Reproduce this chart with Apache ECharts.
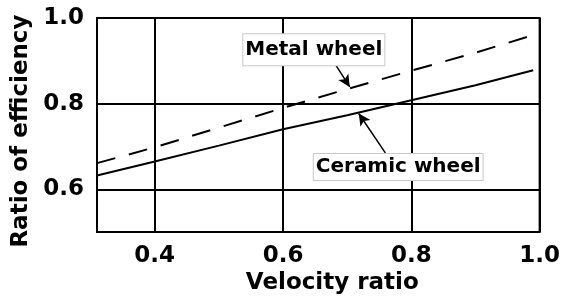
<!DOCTYPE html>
<html>
<head>
<meta charset="utf-8">
<script src="https://cdn.jsdelivr.net/npm/echarts@6/dist/echarts.min.js"></script>
<style>html,body{margin:0;padding:0;background:#fff}#c{width:563px;height:300px}</style>
</head>
<body>
<div id="c"></div>
<script>
// Data
const velocity = [0.31, 0.4, 0.5, 0.6, 0.7, 0.8, 0.9, 0.99];
const ceramic  = [0.632, 0.665, 0.702, 0.740, 0.773, 0.808, 0.843, 0.878];
const metal    = [0.661, 0.698, 0.744, 0.790, 0.834, 0.877, 0.919, 0.960];
const xTicks = [0.4, 0.6, 0.8, 1.0];
const yTicks = [0.6, 0.8, 1.0];
const xRange = [0.31, 1.0];
const yRange = [0.5, 1.0];
// annotation anchors (data coords)
const metalLabel = {text: 'Metal wheel', at: [0.648, 0.926], from: [0.683, 0.888], to: [0.704, 0.839]};
const ceramicLabel = {text: 'Ceramic wheel', at: [0.7795, 0.652], from: [0.7595, 0.685], to: [0.718, 0.777]};

const FONT = 'DejaVu Sans';
const pairs = (xs, ys) => xs.map((x, i) => [x, ys[i]]);
const lbl = (o) => ({
  symbol: 'rect', symbolSize: 1, itemStyle: {color: 'rgba(0,0,0,0)'},
  data: [{coord: o.at, value: o.text}],
  label: {show: true, position: 'inside', formatter: o.text, fontFamily: FONT, fontWeight: 'bold',
    fontSize: 20, color: '#000', backgroundColor: '#fff', borderColor: '#c8c8c8', borderWidth: 1,
    padding: o.pad}
});
const arrow = (o) => ({
  silent: true, symbol: ['none', 'arrow'], symbolSize: [9, 12],
  lineStyle: {color: '#000', width: 1.5, type: 'solid'}, label: {show: false},
  data: [[{coord: o.from}, {coord: o.to}]]
});
metalLabel.pad = [6, 2, 5, 2];
ceramicLabel.pad = [3, 2, 3, 2];

const chart = echarts.init(document.getElementById('c'));
chart.setOption({
  animation: false,
  backgroundColor: '#fff',
  grid: {left: 97, right: 19, top: 18, bottom: 65, show: true, borderColor: '#000', borderWidth: 2, backgroundColor: 'transparent'},
  xAxis: {
    type: 'value', min: xRange[0], max: xRange[1],
    name: 'Velocity ratio', nameLocation: 'middle', nameGap: 34,
    nameTextStyle: {fontFamily: FONT, fontWeight: 'bold', fontSize: 23, color: '#000', padding: [0, 0, 0, 28]},
    axisLine: {show: false},
    axisTick: {show: false, customValues: xTicks},
    axisLabel: {customValues: xTicks, fontFamily: FONT, fontWeight: 'bold', fontSize: 23, color: '#000', margin: 12,
      formatter: v => v.toFixed(1)},
    splitLine: {show: true, lineStyle: {color: '#000', width: 2}}
  },
  yAxis: {
    type: 'value', min: yRange[0], max: yRange[1],
    name: 'Ratio of efficiency', nameLocation: 'middle', nameGap: 57,
    nameTextStyle: {fontFamily: FONT, fontWeight: 'bold', fontSize: 23, color: '#000', padding: [0, 12, 0, 0]},
    axisLine: {show: false},
    axisTick: {show: false, customValues: yTicks},
    axisLabel: {customValues: yTicks, fontFamily: FONT, fontWeight: 'bold', fontSize: 23, color: '#000', margin: 13,
      formatter: v => v.toFixed(1)},
    splitLine: {show: true, lineStyle: {color: '#000', width: 2}}
  },
  series: [
    {
      name: 'Ceramic wheel', type: 'line', data: pairs(velocity, ceramic), showSymbol: false,
      lineStyle: {color: '#000', width: 2}, z: 3,
      markLine: arrow(ceramicLabel), markPoint: lbl(ceramicLabel)
    },
    {
      name: 'Metal wheel', type: 'line', data: pairs(velocity, metal), showSymbol: false,
      lineStyle: {color: '#000', width: 2, type: [19, 14]}, z: 3,
      markLine: arrow(metalLabel), markPoint: lbl(metalLabel)
    }
  ]
});
</script>
</body>
</html>
